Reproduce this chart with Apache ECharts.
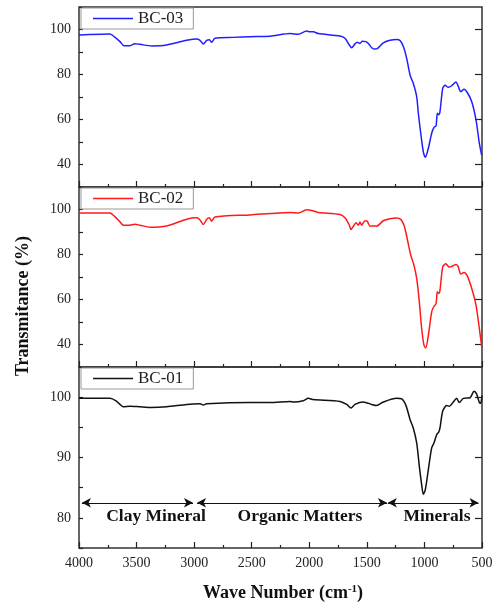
<!DOCTYPE html>
<html><head><meta charset="utf-8">
<script src="https://cdn.jsdelivr.net/npm/echarts@6/dist/echarts.min.js"></script>
<style>html,body{margin:0;padding:0;background:#fff}#c{width:499px;height:605px}</style>
</head><body><div id="c"></div>
<script>
const seriesNames = ['BC-03', 'BC-02', 'BC-01'];
const xTicks = [4000, 3500, 3000, 2500, 2000, 1500, 1000, 500];

const wn03 = [4000,3731,3687,3644,3609,3557,3514,3470,3369,3239,3065,2978,2949,2920,2891,2868,2848,2819,2660,2515,2341,2167,2095,2023,1994,1965,1922,1733,1690,1652,1632,1603,1583,1560,1539,1510,1487,1458,1429,1406,1357,1299,1241,1212,1183,1154,1125,1097,1067,1053,1032,1010,992,966,937,917,899,888,876,865,841,821,793,763,726,706,685,656,628,589,552,523,503];
const bc03 = [97.6,98.0,96.5,94.6,92.8,92.8,93.7,93.4,92.7,93.1,95.2,95.8,95.2,93.6,95.2,95.5,94.3,96.1,96.5,96.8,97.0,98.2,97.9,99.3,99.0,99.0,98.2,97.1,96.1,93.1,91.9,93.6,94.3,93.8,94.8,94.6,93.8,91.9,91.3,91.6,94.1,95.2,95.6,95.1,92.4,87.2,79.8,76.1,70.1,62.8,53.9,45.7,43.2,47.2,53.9,56.5,57.2,62.8,62.1,63.5,73.9,75.2,74.3,75.0,76.7,74.7,72.4,73.4,72.0,67.9,59.8,49.4,44.2];

const wn02 = [4000,3731,3687,3644,3615,3572,3514,3470,3383,3239,3065,2978,2949,2920,2891,2868,2848,2819,2515,2167,2095,2023,1979,1922,1733,1690,1652,1638,1612,1594,1574,1560,1545,1516,1496,1473,1438,1415,1357,1299,1241,1206,1177,1149,1119,1091,1067,1047,1024,1004,989,966,937,917,899,888,876,865,841,813,787,758,726,706,685,656,628,589,552,523,503];
const bc02 = [98.4,98.5,96.7,94.5,93.0,93.0,93.5,93.0,92.1,92.7,95.7,96.3,95.3,93.3,95.7,96.3,94.8,96.7,97.6,98.7,98.4,99.9,99.6,98.7,97.8,96.3,93.0,91.1,93.0,94.1,93.0,94.5,93.0,95.0,94.8,92.6,92.7,92.6,95.0,95.9,96.2,95.6,93.0,86.9,79.7,75.3,69.3,60.4,47.1,39.7,38.5,44.1,54.5,57.0,58.2,63.4,62.7,64.1,74.5,75.9,74.5,74.8,75.6,74.5,71.3,72.0,70.5,64.9,57.5,47.1,39.0];

const wn01 = [4000,3731,3679,3644,3615,3557,3470,3383,3239,3065,2949,2920,2891,2515,2341,2167,2139,2052,2009,1965,1733,1675,1638,1603,1531,1458,1421,1357,1241,1197,1160,1125,1097,1067,1044,1024,1010,992,966,937,917,893,876,865,841,807,784,749,720,697,662,604,569,546,523,511,500];
const bc01 = [99.8,99.8,99.4,98.8,98.4,98.5,98.4,98.3,98.4,98.8,98.9,98.7,98.9,99.1,99.1,99.3,99.2,99.4,99.8,99.6,99.3,98.8,98.2,98.8,99.2,98.8,98.6,99.2,99.8,99.7,98.6,96.3,94.9,92.4,88.5,85.5,83.9,84.7,88.0,91.6,92.4,93.8,94.2,94.9,97.7,98.6,98.5,99.2,99.8,99.1,99.8,99.9,101.0,100.5,99.1,99.0,100.3];

const regionNames = ['Clay Mineral', 'Organic Matters', 'Minerals'];
const regionStart = [3975, 2975, 1318];
const regionEnd = [3010, 1325, 530];
const regionLabelX = [3331, 2081, 891];

const yRanges = [[30,110,10,[40,60,80,100]],[30,110,10,[40,60,80,100]],[75,105,5,[80,90,100]]];
const colors = ['#1f1fff', '#ff1a1a', '#111111'];
const FONT = 'Liberation Serif';

const chart = echarts.init(document.getElementById('c'), null, {renderer: 'canvas'});
const tops = [7, 187, 367], heights = [180, 180, 181];
const grids = tops.map((t, i) => ({left: 79, right: 17, top: t, height: heights[i], show: true,
  borderColor: '#333', borderWidth: 1.5, backgroundColor: 'transparent'}));
const xAxes = tops.map((t, i) => ({
  type: 'value', gridIndex: i, min: 500, max: 4000, interval: 500, inverse: true,
  axisLine: {show: false},
  axisTick: {show: true, inside: true, length: 6, lineStyle: {color: '#222', width: 1.2}},
  minorTick: {show: true, splitNumber: 2, length: 3, lineStyle: {color: '#222', width: 1.2}},
  splitLine: {show: false},
  axisLabel: {show: i === 2, margin: 8, fontFamily: FONT, fontSize: 14, color: '#222',
    customValues: xTicks, showMinLabel: true, showMaxLabel: true, formatter: v => String(v)}
}));
const yAxes = [];
yRanges.forEach((r, i) => {
  yAxes.push({type: 'value', gridIndex: i, min: r[0], max: r[1], interval: r[2],
    axisLine: {show: false}, splitLine: {show: false},
    axisTick: {show: true, inside: true, length: 4, lineStyle: {color: '#222', width: 1.2}},
    axisLabel: {margin: 8, fontFamily: FONT, fontSize: 14, color: '#222',
      formatter: v => (r[3].indexOf(v) >= 0 ? String(v) : '')}
  });
  yAxes.push({type: 'value', gridIndex: i, min: r[0], max: r[1], interval: r[2],
    axisLine: {show: false}, splitLine: {show: false}, axisLabel: {show: false},
    axisTick: {show: true, inside: true, length: 7, customValues: r[3], lineStyle: {color: '#222', width: 1.2}}
  });
});

const wns = [wn03, wn02, wn01], vals = [bc03, bc02, bc01];
const series = seriesNames.map((n, i) => ({
  name: n, type: 'line', xAxisIndex: i, yAxisIndex: i * 2, showSymbol: false, symbol: 'none',
  smooth: 0.25, lineStyle: {color: colors[i], width: 1.5}, itemStyle: {color: colors[i]},
  data: wns[i].map((w, k) => [w, vals[i][k]]), z: 3, animation: false
}));
series[2].markLine = {
  silent: true, symbol: ['arrow', 'arrow'], symbolSize: [7, 9], animation: false,
  lineStyle: {color: '#111', width: 1.2, type: 'solid'}, label: {show: false},
  data: regionStart.map((s, k) => [{coord: [s, 82.5]}, {coord: [regionEnd[k], 82.5]}])
};
series[2].markPoint = {
  silent: true, symbol: 'circle', symbolSize: 0, animation: false,
  label: {show: true, position: 'inside', fontFamily: FONT, fontWeight: 'bold', fontSize: 17.5, color: '#111',
    formatter: p => p.name},
  data: regionNames.map((n, k) => ({name: n, coord: [regionLabelX[k], 80.3]}))
};

const legends = seriesNames.map((n, i) => ({
  data: [n], left: 81, top: tops[i] + 1, orient: 'horizontal',
  icon: 'rect', itemWidth: 40, itemHeight: 1.5, itemGap: 5,
  padding: [2, 10, 2, 12], borderColor: '#999', borderWidth: 1, backgroundColor: '#fff',
  textStyle: {fontFamily: FONT, fontSize: 17, color: '#222'}
}));

chart.setOption({
  animation: false,
  grid: grids, xAxis: xAxes, yAxis: yAxes, series: series, legend: legends,
  graphic: [
    {type: 'text', x: 23, y: 306, rotation: Math.PI / 2,
      style: {text: 'Transmitance (%)', font: 'bold 18px "Liberation Serif"', fill: '#111',
        align: 'center', verticalAlign: 'middle'}},
    {type: 'text', x: 283, y: 593,
      style: {text: '{a|Wave Number (cm}{s|-1}{a|)}', align: 'center', verticalAlign: 'middle',
        rich: {a: {font: 'bold 18px "Liberation Serif"', fill: '#111'},
               s: {font: 'bold 11px "Liberation Serif"', fill: '#111', verticalAlign: 'top', padding: [0,0,8,0]}}}}
  ]
});
</script></body></html>
